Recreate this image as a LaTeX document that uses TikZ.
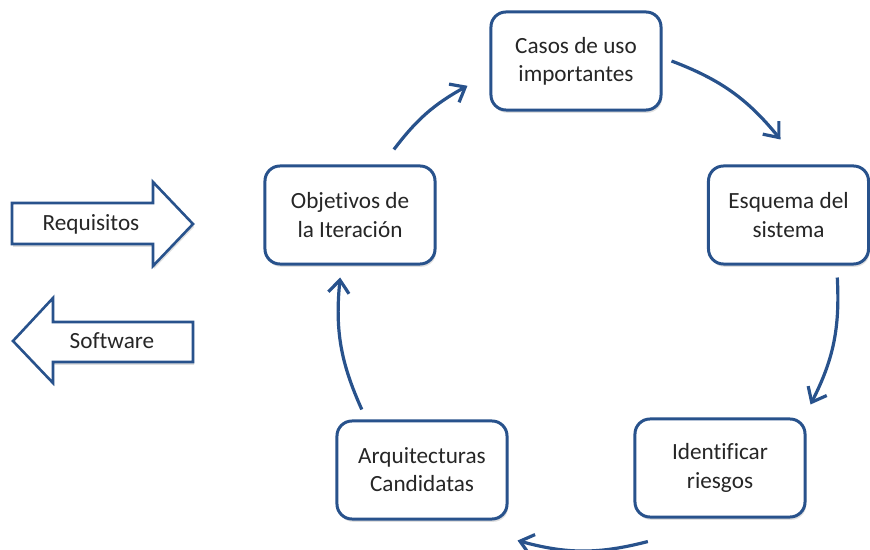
\documentclass[tikz,border=0pt]{standalone}
\usepackage{fontspec}
\setmainfont{Carlito}[Ligatures={NoCommon,TeX}]
\usetikzlibrary{arrows.meta,shadows}
\definecolor{azul}{RGB}{40,82,140}
\definecolor{texto}{RGB}{38,38,38}

\begin{document}
\begin{tikzpicture}[x=0.025cm,y=-0.025cm,
		caja/.style={draw=azul,line width=0.075cm,rounded corners=0.375cm,fill=white,minimum width=4.25cm,minimum height=2.45cm,align=center,text=texto,font=\fontsize{16.5}{20}\selectfont,drop shadow={opacity=0.25,shadow xshift=0.03cm,shadow yshift=-0.07cm}},
		flecha/.style={draw=azul,line width=0.08cm,-{Straight Barb[length=0.32cm,width=0.52cm]}},
		bloque/.style={draw=azul,line width=0.065cm,fill=white,drop shadow={opacity=0.25,shadow xshift=0.03cm,shadow yshift=-0.07cm}},
		etiqueta/.style={text=texto,font=\fontsize{16.5}{20}\selectfont}]
	\useasboundingbox (0,0) rectangle (870,550);
	% el ciclo
	\node[caja] (casos) at (576,61) {Casos de uso\\importantes};
	\node[caja,minimum width=4cm] (esquema) at (788.5,215) {Esquema del\\sistema};
	\node[caja] (riesgos) at (720,468) {Identificar\\riesgos};
	\node[caja] (arquit) at (422,470) {Arquitecturas\\Candidatas};
	\node[caja] (objet) at (350,215) {Objetivos de\\la Iteración};
	\draw[flecha] ([yshift=0.375cm]objet.49) to[bend left=12] ([xshift=-0.55cm]casos.196);
	\draw[flecha] ([xshift=0.225cm]casos.east) to[bend left=15] ([yshift=0.625cm]esquema.99);
	\draw[flecha] ([yshift=-0.3cm]esquema.-46) to[bend left=15] ([xshift=0.1cm,yshift=0.325cm]riesgos.north east);
	\draw[flecha] ([yshift=-0.575cm]riesgos.-145) to[bend left=15] ([xshift=0.225cm,yshift=-0.5cm]arquit.south east);
	\draw[flecha] ([yshift=0.25cm]arquit.140) to[bend left=15] ([yshift=-0.3cm]objet.-101);
	% entrada y salida
	\draw[bloque] (12,203) -- (153,203) -- (153,182) -- (193,224) -- (153,266) -- (153,244) -- (12,244) -- cycle;
	\node[etiqueta] (req) at (91,224) {Requisitos};
	\draw[bloque] (193,322) -- (53,322) -- (53,298) -- (13,341) -- (53,383) -- (53,362) -- (193,362) -- cycle;
	\node[etiqueta] (soft) at (112,341) {Software};
\end{tikzpicture}
\end{document}
